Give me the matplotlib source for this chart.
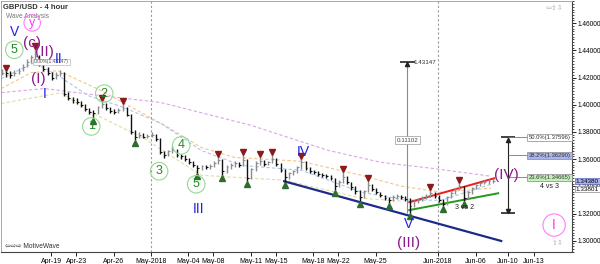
import matplotlib
matplotlib.use("Agg")
import matplotlib.pyplot as plt
import matplotlib.transforms as mtransforms
from matplotlib.ticker import MultipleLocator, FormatStrFormatter
import numpy as np

plt.rcParams['font.family'] = ['Liberation Sans', 'DejaVu Sans']

# x axis is trading days counted from Apr-19, bars every 8 hours
bar_start = -3.95
bar_step = 1 / 3

close = [1.4237, 1.4230, 1.4222, 1.4237, 1.4251, 1.4281, 1.4317, 1.4354, 1.4362, 1.4302,
         1.4265, 1.4237, 1.4199, 1.4222, 1.4237, 1.4080, 1.4050, 1.4035, 1.4020, 1.3999,
         1.3968, 1.3946, 1.3939, 1.3984, 1.4006, 1.3976, 1.3954, 1.3946, 1.3962, 1.3976,
         1.3924, 1.3801, 1.3764, 1.3779, 1.3764, 1.3771, 1.3779, 1.3749, 1.3649, 1.3628,
         1.3657, 1.3665, 1.3628, 1.3620, 1.3598, 1.3576, 1.3554, 1.3532, 1.3547, 1.3540,
         1.3547, 1.3569, 1.3591, 1.3510, 1.3540, 1.3554, 1.3569, 1.3554, 1.3591, 1.3459,
         1.3525, 1.3569, 1.3584, 1.3562, 1.3576, 1.3598, 1.3562, 1.3517, 1.3466, 1.3495,
         1.3510, 1.3540, 1.3576, 1.3532, 1.3510, 1.3503, 1.3488, 1.3481, 1.3473, 1.3459,
         1.3400, 1.3429, 1.3466, 1.3429, 1.3392, 1.3363, 1.3318, 1.3363, 1.3408, 1.3378,
         1.3356, 1.3334, 1.3313, 1.3297, 1.3319, 1.3327, 1.3319, 1.3305, 1.3253, 1.3289,
         1.3297, 1.3313, 1.3327, 1.3348, 1.3327, 1.3297, 1.3267, 1.3319, 1.3348, 1.3378,
         1.3400, 1.3313, 1.3356, 1.3386, 1.3408, 1.3423, 1.3429, 1.3437, 1.3438]
high = [1.4263, 1.4251, 1.4246, 1.4257, 1.4272, 1.4299, 1.4336, 1.4369, 1.4412, 1.4369,
        1.4310, 1.4275, 1.4243, 1.4239, 1.4259, 1.4242, 1.4090, 1.4060, 1.4046, 1.4026,
        1.4006, 1.3976, 1.3959, 1.3993, 1.4026, 1.4012, 1.3983, 1.3967, 1.3974, 1.4008,
        1.3983, 1.3929, 1.3811, 1.3797, 1.3792, 1.3787, 1.3802, 1.3787, 1.3758, 1.3660,
        1.3670, 1.3695, 1.3673, 1.3641, 1.3631, 1.3607, 1.3583, 1.3559, 1.3559, 1.3559,
        1.3564, 1.3583, 1.3612, 1.3598, 1.3554, 1.3569, 1.3583, 1.3579, 1.3627, 1.3598,
        1.3535, 1.3583, 1.3612, 1.3593, 1.3588, 1.3627, 1.3607, 1.3569, 1.3525, 1.3506,
        1.3521, 1.3550, 1.3598, 1.3583, 1.3540, 1.3521, 1.3511, 1.3496, 1.3492, 1.3482,
        1.3463, 1.3444, 1.3503, 1.3473, 1.3434, 1.3400, 1.3371, 1.3376, 1.3439, 1.3415,
        1.3386, 1.3361, 1.3338, 1.3319, 1.3333, 1.3343, 1.3338, 1.3328, 1.3311, 1.3301,
        1.3314, 1.3328, 1.3343, 1.3371, 1.3357, 1.3333, 1.3304, 1.3328, 1.3362, 1.3391,
        1.3424, 1.3405, 1.3366, 1.3397, 1.3420, 1.3434, 1.3444, 1.3452, 1.3460]
low = [1.4216, 1.4207, 1.4200, 1.4212, 1.4228, 1.4245, 1.4274, 1.4310, 1.4337, 1.4288,
       1.4250, 1.4222, 1.4182, 1.4192, 1.4214, 1.4065, 1.4036, 1.4016, 1.4002, 1.3983,
       1.3953, 1.3929, 1.3904, 1.3934, 1.3973, 1.3963, 1.3939, 1.3929, 1.3939, 1.3954,
       1.3914, 1.3787, 1.3737, 1.3758, 1.3754, 1.3757, 1.3763, 1.3734, 1.3635, 1.3606,
       1.3621, 1.3645, 1.3616, 1.3602, 1.3585, 1.3563, 1.3539, 1.3501, 1.3520, 1.3525,
       1.3530, 1.3539, 1.3563, 1.3481, 1.3501, 1.3530, 1.3544, 1.3539, 1.3549, 1.3438,
       1.3452, 1.3515, 1.3558, 1.3549, 1.3554, 1.3568, 1.3549, 1.3506, 1.3428, 1.3457,
       1.3486, 1.3501, 1.3530, 1.3521, 1.3496, 1.3492, 1.3477, 1.3467, 1.3460, 1.3443,
       1.3376, 1.3395, 1.3424, 1.3415, 1.3376, 1.3347, 1.3289, 1.3313, 1.3357, 1.3366,
       1.3342, 1.3320, 1.3299, 1.3275, 1.3289, 1.3308, 1.3307, 1.3289, 1.32045, 1.3249,
       1.3280, 1.3289, 1.3304, 1.3318, 1.3313, 1.3285, 1.3258, 1.3260, 1.3313, 1.3342,
       1.3371, 1.3289, 1.3304, 1.3347, 1.3381, 1.3400, 1.3415, 1.3419, 1.3425]

# swing markers (bar indices)
swing_hi = [1, 8, 24, 29, 52, 58, 62, 65, 72, 82, 88, 103, 110]
swing_lo = [22, 32, 47, 53, 59, 68, 80, 86, 93, 98, 106, 111]

# moving averages (day, price)
ma_long_t = [-4.0, -0.56, 4.0, 8.81, 16.03, 22.2, 26.44, 30.45, 35.26]
ma_long_p = [1.4089, 1.4119, 1.4067, 1.4016, 1.3848, 1.3664, 1.3576, 1.3533, 1.3474]
ma_mid_t = [-4.0, -1.6, 0.56, 4.0, 9.38, 12.02, 14.66, 20.03, 24.84, 28.04, 31.25, 35.26]
ma_mid_p = [1.4119, 1.4236, 1.4250, 1.4104, 1.3833, 1.3686, 1.3613, 1.3584, 1.3481, 1.3401, 1.3357, 1.3386]
ma_short_t = [-4.0, -1.36, 0.56, 2.96, 5.85, 8.81, 12.02, 15.22, 20.03, 24.84, 28.45, 31.25, 35.26]
ma_short_p = [1.4192, 1.4309, 1.4214, 1.4067, 1.3979, 1.3862, 1.3664, 1.3554, 1.3518, 1.3357, 1.3298, 1.3298, 1.3415]
ma_low_t = [-4.0, 0.8, 3.21, 7.45, 12.02, 18.67, 24.84, 28.04]
ma_low_p = [1.4009, 1.4089, 1.3943, 1.3752, 1.3481, 1.3445, 1.3313, 1.3291]

# trend lines
navy_t, navy_p = [18.67, 36.06], [1.3437, 1.2998]
upper_t, upper_p = [28.69, 35.5], [1.3283, 1.3459]
lower_t, lower_p = [28.69, 35.82], [1.3225, 1.3349]

# measure and fibonacci
swing_top = 1.43147
swing_bottom = 1.32045
measure_day = 28.53
fib_day = 36.62
fib_levels = [1.37596, 1.36290, 1.34665]
fib_labels = ["50.0%(1.37596)", "38.2%(1.36290)", "23.6%(1.34665)"]
fib_colors = ["#ffffff", "#aab4ea", "#c4f0bc"]
last_price = 1.34380
other_price = 1.33801

# wave labels
blue_txt = ["V", "II", "I", "III", "IV", "V"]
blue_t = [-2.96, 0.56, -0.56, 11.78, 20.19, 28.6]
blue_p = [1.4536, 1.4338, 1.4082, 1.3232, 1.3650, 1.3122]
purple_txt = ["(c)", "(II)", "(I)", "(III)", "(IV)"]
purple_t = [-1.52, -0.56, -1.04, 28.6, 36.46]
purple_p = [1.4456, 1.4390, 1.4192, 1.2983, 1.3481]
minor_txt = ["5", "1", "2", "3", "4", "5"]
minor_t = [-2.96, 3.21, 4.25, 8.65, 10.42, 11.62]
minor_p = [1.4404, 1.3840, 1.4082, 1.3511, 1.3701, 1.3415]

tick_days = [0, 2, 5, 8, 11, 13, 16, 18, 21, 23, 26, 31, 34, 36.6, 38.7]
tick_labels = ["Apr-19", "Apr-23", "Apr-26", "May-2018", "May-04", "May-08", "May-11",
               "May-15", "May-18", "May-22", "May-25", "Jun-2018", "Jun-06", "Jun-10", "Jun-13"]

fig = plt.figure(figsize=(6, 2.64), dpi=100)
ax = fig.add_axes([0.002, 0.0455, 0.9517, 0.9508])
ax.set_xlim(-4.006, 41.75)
ax.set_ylim(1.2917, 1.4763)

# month separators
for d in [8, 31]:
    ax.axvline(d, color="#9a9a9a", lw=0.8, ls=(0, (2, 2)), zorder=1)

# moving averages
ax.plot(ma_long_t, ma_long_p, color="#d9a6e6", lw=0.8, ls=(0, (3, 2)), zorder=1)
ax.plot(ma_mid_t, ma_mid_p, color="#f6c48c", lw=0.8, ls=(0, (3, 2)), zorder=1)
ax.plot(ma_short_t, ma_short_p, color="#a9c6f0", lw=0.8, ls=(0, (3, 2)), zorder=1)
ax.plot(ma_low_t, ma_low_p, color="#e2dba6", lw=0.8, ls=(0, (3, 2)), zorder=1)

# price bars
bar_t = bar_start + np.arange(len(close)) * bar_step
prev = [close[0]] + close[:-1]
cols = ["#8c8c8c" if c >= p else "#111111" for c, p in zip(close, prev)]
ax.vlines(bar_t, low, high, colors=cols, lw=1.0, zorder=3)
ax.hlines(close, bar_t, bar_t + 0.15, colors=cols, lw=0.8, zorder=3)

hi_t = [bar_t[i] for i in swing_hi]
hi_p = [high[i] + 0.0022 for i in swing_hi]
lo_t = [bar_t[i] for i in swing_lo]
lo_p = [low[i] - 0.0022 for i in swing_lo]
ax.plot(hi_t, hi_p, "v", color="#8b1a1a", ms=4.2, ls="none", zorder=4)
ax.plot(lo_t, lo_p, "^", color="#2f6b2f", ms=4.2, ls="none", zorder=4)

# trend lines
ax.plot(navy_t, navy_p, color="#1c2a8c", lw=1.6, zorder=2)
ax.plot(upper_t, upper_p, color="#ee1c1c", lw=1.4, zorder=2)
ax.plot(lower_t, lower_p, color="#1f9a1f", lw=1.4, zorder=2)

# measure tool
ax.vlines(measure_day, swing_bottom, swing_top, color="#8a8a8a", lw=0.8, zorder=2)
ax.hlines(swing_top, measure_day - 0.6, measure_day + 0.6, color="#222222", lw=1.2)
ax.plot(measure_day, swing_top - 0.0015, "^", color="#222222", ms=3)
ax.text(measure_day + 0.5, swing_top - 0.0002, "1.43147", fontsize=4.5, va="center", color="#333333")
ax.text(measure_day, 1.3739, "%.5f" % (swing_top - swing_bottom), fontsize=4.5, ha="center", va="center",
        color="#444444", bbox=dict(boxstyle="square,pad=0.25", fc="white", ec="#999999", lw=0.5), zorder=5)

# fibonacci retracement
ax.vlines(fib_day, swing_bottom, fib_levels[0], color="#222222", lw=0.8)
for lv in [fib_levels[0], swing_bottom]:
    ax.hlines(lv, fib_day - 0.55, fib_day + 0.55, color="#222222", lw=1.2)
ax.plot(fib_day, fib_levels[0] - 0.0016, "^", color="#222222", ms=3)
ax.plot(fib_day, swing_bottom + 0.0016, "v", color="#222222", ms=3)
for lv, lab, fc in zip(fib_levels, fib_labels, fib_colors):
    ax.hlines(lv, fib_day, 38.2, color="#777777", lw=0.6)
    ax.text(38.25, lv, lab, fontsize=4.2, va="center", ha="left", color="#333333",
            bbox=dict(boxstyle="square,pad=0.2", fc=fc, ec="#888888", lw=0.5), zorder=5)

# wave labels
for s, x, y in zip(blue_txt, blue_t, blue_p):
    ax.text(x, y, s, color="#2222dd", fontsize=10, ha="center", va="center", zorder=6)
for s, x, y in zip(purple_txt, purple_t, purple_p):
    ax.text(x, y, s, color="#8b1a8b", fontsize=11, ha="center", va="center", zorder=6)
for s, x, y in zip(minor_txt, minor_t, minor_p):
    ax.text(x, y, s, color="#1f8a1f", fontsize=9, ha="center", va="center", zorder=6,
            bbox=dict(boxstyle="circle,pad=0.22", fc="none", ec="#93d993", lw=0.8))
ax.text(-1.52, 1.4602, "y", color="#ff3cff", fontsize=9, ha="center", va="center", zorder=6,
        bbox=dict(boxstyle="circle,pad=0.18", fc="none", ec="#ff7cff", lw=0.8))
ax.text(40.3, 1.3115, "I", color="#ff3cd0", fontsize=10, ha="center", va="center", zorder=6,
        bbox=dict(boxstyle="circle,pad=0.3", fc="none", ec="#ff7cff", lw=0.8))
ax.text(33.1, 1.3247, "3 vs 2", fontsize=5, ha="center", va="center", color="#222222", zorder=6)
ax.text(39.9, 1.3401, "4 vs 3", fontsize=5, ha="center", va="center", color="#222222", zorder=6)
ax.text(-1.36, 1.4315, "0.00%(1.43147)", fontsize=3.5, ha="left", va="center", color="#555555",
        bbox=dict(boxstyle="square,pad=0.15", fc="white", ec="#aaaaaa", lw=0.4), zorder=5)

# header and footer
ax.text(0.004, 0.975, "GBP/USD - 4 hour", transform=ax.transAxes, fontsize=5.5, fontweight="bold",
        color="#333333", va="center")
ax.text(0.008, 0.94, "Wave Analysis", transform=ax.transAxes, fontsize=4.8, color="#777777", va="center")
ax.text(0.006, 0.022, "\u21e6\u21e8\u21e8 MotiveWave", transform=ax.transAxes, fontsize=4.8,
        color="#333333", va="center")
ax.text(0.985, 0.985, "\u21e6\u21e7\u21e9", transform=ax.transAxes, fontsize=5, color="#aaaaaa",
        ha="right", va="top")
ax.text(0.985, 0.03, "\u21e7\u21e9", transform=ax.transAxes, fontsize=5, color="#aaaaaa", ha="right")

# price tags on the right axis
trans = mtransforms.blended_transform_factory(ax.transAxes, ax.transData)
ax.text(1.006, other_price, "%.5f" % other_price, transform=trans, fontsize=4.6, va="center", ha="left",
        clip_on=False, zorder=7, bbox=dict(boxstyle="square,pad=0.12", fc="white", ec="#888888", lw=0.5))
ax.text(1.006, last_price, "%.5f" % last_price, transform=trans, fontsize=4.6, va="center", ha="left",
        clip_on=False, zorder=8, bbox=dict(boxstyle="square,pad=0.12", fc="#aab2e8", ec="#5a66b8", lw=0.5))

# axes styling
ax.yaxis.tick_right()
ax.set_yticks(np.arange(1.30, 1.4601, 0.02))
ax.yaxis.set_major_formatter(FormatStrFormatter("%.5f"))
ax.yaxis.set_minor_locator(MultipleLocator(0.002))
ax.tick_params(axis="y", which="major", length=3, width=0.6, labelsize=4.7, pad=1)
ax.tick_params(axis="y", which="minor", length=1.5, width=0.5)
ax.set_xticks(tick_days)
ax.set_xticklabels(tick_labels)
ax.tick_params(axis="x", length=3, width=0.6, labelsize=5, pad=1)
for side in ["top", "left"]:
    ax.spines[side].set_color("#9a9a9a")
    ax.spines[side].set_linewidth(0.6)
for side in ["bottom", "right"]:
    ax.spines[side].set_color("#444444")
    ax.spines[side].set_linewidth(0.8)

fig.savefig("out.png", dpi=100)
